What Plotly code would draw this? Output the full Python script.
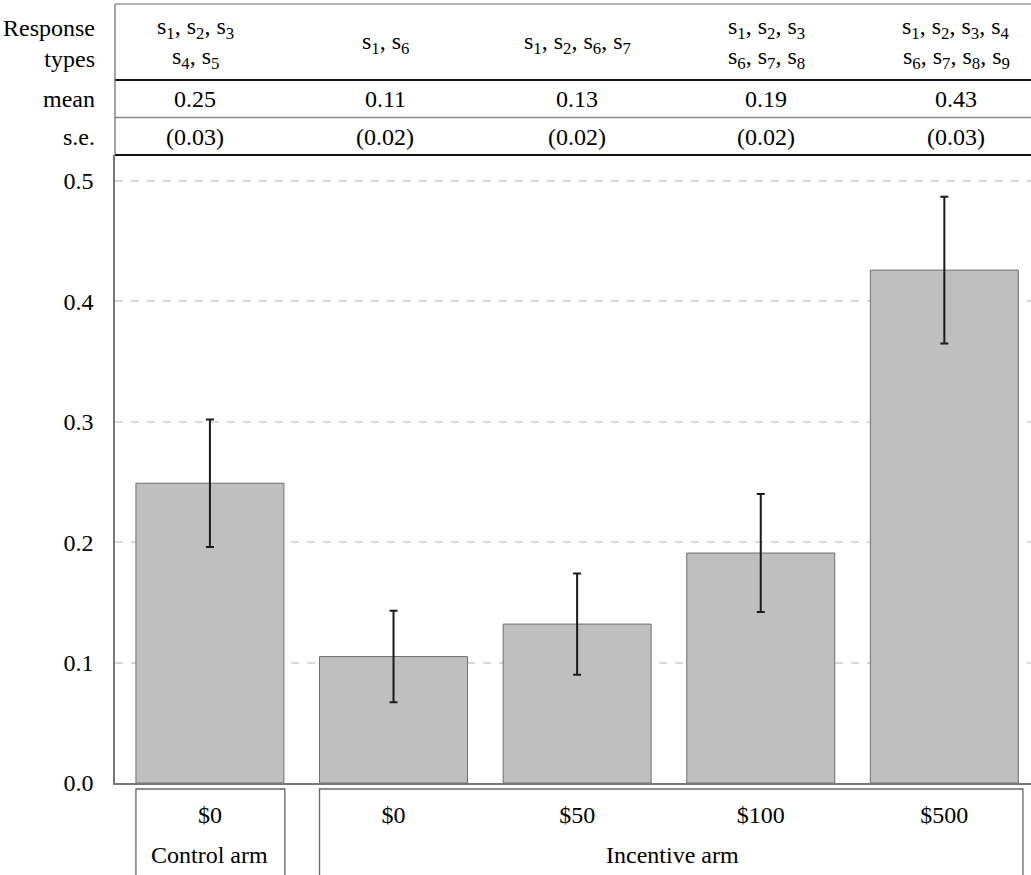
import plotly.graph_objects as go

# ---------------- data ----------------
tick_labels = ["$0", "$0", "$50", "$100", "$500"]
means = [0.249, 0.105, 0.132, 0.191, 0.426]
errors = [0.053, 0.038, 0.042, 0.049, 0.061]
group_labels = ["Control arm", "Incentive arm"]
response_types = [
    [[1, 2, 3], [4, 5]],
    [[1, 6]],
    [[1, 2, 6, 7]],
    [[1, 2, 3], [6, 7, 8]],
    [[1, 2, 3, 4], [6, 7, 8, 9]],
]
table_mean = ["0.25", "0.11", "0.13", "0.19", "0.43"]
table_se = ["(0.03)", "(0.02)", "(0.02)", "(0.02)", "(0.03)"]
row_labels = ["Response<br>types", "mean", "s.e."]

# ---------------- layout helpers ----------------
W, H = 1031, 875
L, R, T, B = 115, 0, 155, 92
PW, PH = W - L - R, H - T - B
FONT = "Liberation Serif"
FS = 24


def py(p):  # pixel y -> paper y
    return (H - B - p) / PH


def px(p):  # pixel x -> paper x
    return (p - L) / PW


def tfont():
    return dict(family=FONT, size=FS, color="black")


x = list(range(len(means)))

fig = go.Figure()
fig.add_trace(go.Bar(
    x=x, y=means, width=0.806,
    marker=dict(color="#bfbfbf", line=dict(color="#6e6e6e", width=1)),
    error_y=dict(type="data", array=errors, visible=True,
                 color="#1a1a1a", thickness=2, width=4),
    showlegend=False, hoverinfo="skip",
))

shapes = []

# table lines
line_gray = "#666666"
shapes.append(dict(type="line", xref="paper", yref="paper", x0=0, x1=1,
                   y0=py(4), y1=py(4), line=dict(color=line_gray, width=1.2)))
shapes.append(dict(type="line", xref="paper", yref="paper", x0=0, x1=1,
                   y0=py(80), y1=py(80), line=dict(color="#111111", width=2)))
shapes.append(dict(type="line", xref="paper", yref="paper", x0=0, x1=1,
                   y0=py(117.5), y1=py(117.5), line=dict(color="#888888", width=1.5)))
shapes.append(dict(type="line", xref="paper", yref="paper", x0=0, x1=1,
                   y0=py(155), y1=py(155), line=dict(color="#111111", width=2)))
shapes.append(dict(type="line", xref="paper", yref="paper", x0=0, x1=0,
                   y0=py(4), y1=py(155), line=dict(color=line_gray, width=1.2)))

# bottom group boxes
box_col = "#666666"
shapes.append(dict(type="rect", xref="x", yref="paper", x0=-0.403, x1=0.408,
                   y0=py(885), y1=py(789), line=dict(color=box_col, width=1.3),
                   fillcolor="rgba(0,0,0,0)"))
shapes.append(dict(type="rect", xref="x", yref="paper", x0=0.597, x1=4.428,
                   y0=py(885), y1=py(789), line=dict(color=box_col, width=1.3),
                   fillcolor="rgba(0,0,0,0)"))

fig.update_layout(
    width=W, height=H,
    margin=dict(l=L, r=R, t=T, b=B, pad=0),
    paper_bgcolor="white", plot_bgcolor="white",
    font=tfont(),
    shapes=shapes,
    bargap=0.19,
)

# row labels
fig.add_annotation(text=row_labels[0], xref="paper", yref="paper",
                   x=px(97), y=py(43), xanchor="right", yanchor="middle",
                   align="right", showarrow=False, font=tfont())
fig.add_annotation(text=row_labels[1], xref="paper", yref="paper",
                   x=px(97), y=py(99), xanchor="right", yanchor="middle",
                   showarrow=False, font=tfont())
fig.add_annotation(text=row_labels[2], xref="paper", yref="paper",
                   x=px(97), y=py(137), xanchor="right", yanchor="middle",
                   showarrow=False, font=tfont())

col_px = [195, 385, 577, 766, 956]


def stext(nums):
    return ", ".join("s<sub>%d</sub>" % n for n in nums)


for i, rt in enumerate(response_types):
    ys = [28, 58] if len(rt) == 2 else [43]
    for line, yy in zip(rt, ys):
        fig.add_annotation(text=stext(line), xref="paper", yref="paper",
                           x=px(col_px[i]), y=py(yy), xanchor="center",
                           yanchor="middle", showarrow=False, font=tfont())
    fig.add_annotation(text=table_mean[i], xref="paper", yref="paper",
                       x=px(col_px[i]), y=py(99), xanchor="center",
                       yanchor="middle", showarrow=False, font=tfont())
    fig.add_annotation(text=table_se[i], xref="paper", yref="paper",
                       x=px(col_px[i]), y=py(137), xanchor="center",
                       yanchor="middle", showarrow=False, font=tfont())

fig.add_annotation(text=group_labels[0], xref="x", yref="paper", x=0,
                   y=py(855), xanchor="center", yanchor="middle",
                   showarrow=False, font=tfont())
fig.add_annotation(text=group_labels[1], xref="paper", yref="paper", x=px(672),
                   y=py(855), xanchor="center", yanchor="middle",
                   showarrow=False, font=tfont())

fig.update_xaxes(
    range=[-0.517, 4.472], tickvals=x, ticktext=tick_labels,
    showgrid=False, zeroline=False, showline=True, linecolor="#777777",
    linewidth=1.5, ticks="", ticklabelstandoff=9, tickfont=tfont(),
)
fig.update_yaxes(
    range=[0, 0.5216], tickvals=[0, 0.1, 0.2, 0.3, 0.4, 0.5], tickformat=".1f",
    showgrid=True, gridcolor="#d9d9d9", gridwidth=1.5, griddash="8px,8px",
    zeroline=False, showline=True, linecolor="#777777", linewidth=1.5,
    ticks="", ticklabelstandoff=15, tickfont=tfont(),
)

fig.write_html("out.html")
